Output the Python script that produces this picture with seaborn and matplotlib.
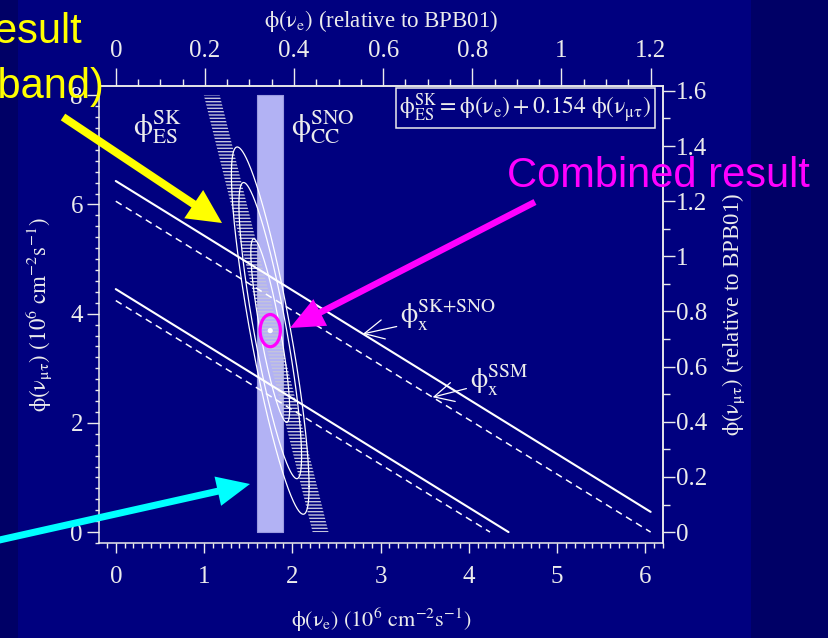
import numpy as np
import pandas as pd
import matplotlib
matplotlib.use("Agg")
import matplotlib.pyplot as plt
import matplotlib.patches as mpatches
from matplotlib.transforms import IdentityTransform
from matplotlib.ticker import MultipleLocator, FixedLocator, FuncFormatter
import seaborn as sns

# ---- measured fluxes, 10^6 cm^-2 s^-1 ----
sno_cc = 1.75            # SNO charged-current nu_e flux
sno_cc_err = 0.145
sk_es = 2.32             # Super-K elastic-scattering flux
sk_es_err = 0.09
es_mutau_coeff = 0.154   # ES sensitivity to nu_mu,tau relative to nu_e
bpb01_flux = 5.05        # BPB01 8B prediction, used for the relative scales
band_top = 8.0           # upper phi(nu_mu,tau) drawn for the bands

combined_e = 1.75        # combined best fit
combined_mutau = 3.69
cl_chi2 = [2.30, 5.99, 9.21]   # 68%, 95%, 99% joint contours

# total 8B flux bands: phi_e + phi_mutau = const
total_names = ["SK+SNO", "SSM"]
total_low = [4.45, 4.24]
total_high = [6.43, 6.06]
total_styles = ["solid", "dashed"]
line_x_end = 6.06

bottom_ticks = [0, 1, 2, 3, 4, 5, 6]
left_ticks = [0, 2, 4, 6, 8]
top_ticks = [0, 0.2, 0.4, 0.6, 0.8, 1.0, 1.2]
right_ticks = [0, 0.2, 0.4, 0.6, 0.8, 1.0, 1.2, 1.4, 1.6]

SLIDE_BG = "#000066"
PANEL_BG = "#00007f"
INK = "#ececec"
HATCH = "#c4c4dc"
SNO_FILL = "#b2b2f4"
YELLOW = "#ffff00"
MAGENTA = "#ff00ff"
CYAN = "#00ffff"
SERIF = ["Liberation Serif", "DejaVu Serif"]

W, H = 829, 638

sns.set_theme(style="white")
plt.rcParams.update({
    "font.family": SERIF,
    "mathtext.fontset": "stix",
    "text.color": INK,
    "axes.labelcolor": INK,
    "xtick.color": INK,
    "ytick.color": INK,
    "axes.edgecolor": INK,
    "axes.linewidth": 1.1,
    "hatch.linewidth": 1.0,
    "hatch.color": HATCH,
})

fig = plt.figure(figsize=(W / 100, H / 100), dpi=100, facecolor=SLIDE_BG)
fig.add_artist(mpatches.Rectangle((18 / W, 0), (751 - 18) / W, 1,
                                  transform=fig.transFigure,
                                  facecolor=PANEL_BG, edgecolor="none", zorder=-5))

ax = fig.add_axes([99 / W, 1 - 543 / H, (663 - 99) / W, (543 - 86) / H])
ax.set_facecolor(PANEL_BG)
ax.set_xlim(-0.19, 6.2)
ax.set_ylim(-0.2, 8.17)

# SNO CC band
ax.fill_betweenx([0, band_top], sno_cc - sno_cc_err, sno_cc + sno_cc_err,
                 facecolor=SNO_FILL, edgecolor="#9a9ae0", linewidth=0.8, zorder=1)

# SK ES band: phi_e = phi_ES - 0.154 phi_mutau
yy = np.array([0.0, band_top])
ax.fill_betweenx(yy, sk_es - sk_es_err - es_mutau_coeff * yy,
                 sk_es + sk_es_err - es_mutau_coeff * yy,
                 facecolor="none", edgecolor=HATCH, linewidth=0,
                 hatch="-----", zorder=2)

# total-flux lines
for lo, hi, style in zip(total_low, total_high, total_styles):
    for tot in (lo, hi):
        x_end = min(tot, line_x_end)
        seg = pd.DataFrame({"x": [0.0, x_end], "y": [tot, tot - x_end]})
        sns.lineplot(data=seg, x="x", y="y", ax=ax, color="white",
                     lw=1.5 if style == "solid" else 1.1,
                     linestyle="-" if style == "solid" else (0, (4.5, 3.2)),
                     sort=False, estimator=None, zorder=3)

# joint confidence contours from the two measurements
var_e = sno_cc_err ** 2
var_mt = (sk_es_err ** 2 + sno_cc_err ** 2) / es_mutau_coeff ** 2
cov_emt = -sno_cc_err ** 2 / es_mutau_coeff
chol = np.linalg.cholesky(np.array([[var_e, cov_emt], [cov_emt, var_mt]]))
t = np.linspace(0, 2 * np.pi, 400)
circle = np.vstack([np.cos(t), np.sin(t)])
for c2 in cl_chi2:
    pts = chol @ circle * np.sqrt(c2)
    ell = pd.DataFrame({"x": combined_e + pts[0], "y": combined_mutau + pts[1]})
    sns.lineplot(data=ell, x="x", y="y", ax=ax, color="white", lw=0.9,
                 sort=False, estimator=None, zorder=4)

sns.scatterplot(x=[combined_e], y=[combined_mutau], ax=ax, color="white",
                s=14, edgecolor="none", zorder=5)
ax.add_patch(mpatches.Ellipse((combined_e, combined_mutau), 0.23, 0.59,
                              fill=False, edgecolor=MAGENTA, lw=2.3, zorder=6))

# axes, ticks
ax.xaxis.set_major_locator(FixedLocator(bottom_ticks))
ax.xaxis.set_minor_locator(MultipleLocator(0.1))
ax.yaxis.set_major_locator(FixedLocator(left_ticks))
ax.yaxis.set_minor_locator(MultipleLocator(0.2))
fmt = FuncFormatter(lambda v, p: f"{v:g}")
ax.xaxis.set_major_formatter(fmt)
ax.yaxis.set_major_formatter(fmt)
ax.tick_params(axis="x", which="major", direction="out", length=7.5, width=1.0,
               pad=9, labelsize=18, bottom=True, labelfontfamily=SERIF[0])
ax.tick_params(axis="x", which="minor", direction="out", length=3.6, width=1.0, bottom=True)
ax.tick_params(axis="y", which="major", direction="out", length=8.6, width=1.0,
               pad=3, labelsize=18, left=True, labelfontfamily=SERIF[0])
ax.tick_params(axis="y", which="minor", direction="out", length=3.0, width=1.0, left=True)
for s in ax.spines.values():
    s.set_color(INK)

ax.set_xlabel(r"$\mathrm{\phi(\nu_e)\ (10^6\ cm^{-2}s^{-1})}$", fontsize=16)
ax.xaxis.set_label_coords(0.5, -0.168)
ax.xaxis.label.set_va("center")
ax.set_ylabel(r"$\mathrm{\phi(\nu_{\mu\tau})\ (10^6\ cm^{-2}s^{-1})}$", fontsize=16.5)
ax.yaxis.set_label_coords(-0.106, 0.5)
ax.yaxis.label.set_va("center")

top = ax.secondary_xaxis("top", functions=(lambda v: v / bpb01_flux,
                                           lambda v: v * bpb01_flux))
top.xaxis.set_major_locator(FixedLocator(top_ticks))
top.xaxis.set_minor_locator(MultipleLocator(0.05))
top.xaxis.set_major_formatter(fmt)
top.tick_params(axis="x", which="major", direction="out", length=13, width=1.0,
                pad=4, labelsize=18, labelfontfamily=SERIF[0])
top.tick_params(axis="x", which="minor", direction="out", length=5, width=1.0)
top.set_xlabel(r"$\mathrm{\phi(\nu_e)}$ (relative to BPB01)", fontsize=16.5)
top.xaxis.set_label_coords(0.5, 1.142, transform=ax.transAxes)
top.xaxis.label.set_va("center")

right = ax.secondary_yaxis("right", functions=(lambda v: v / bpb01_flux,
                                               lambda v: v * bpb01_flux))
right.yaxis.set_major_locator(FixedLocator(right_ticks))
right.yaxis.set_minor_locator(MultipleLocator(0.1))
right.yaxis.set_major_formatter(fmt)
right.tick_params(axis="y", which="major", direction="out", length=8.6, width=1.0,
                  pad=1, labelsize=18, labelfontfamily=SERIF[0])
right.tick_params(axis="y", which="minor", direction="out", length=5, width=1.0)
right.set_ylabel(r"$\mathrm{\phi(\nu_{\mu\tau})}$ (relative to BPB01)", fontsize=16.5)
right.yaxis.set_label_coords(1.126, 0.5, transform=ax.transAxes)
right.yaxis.label.set_va("center")

# in-plot labels
ax.text(0.19, 7.42, r"$\mathrm{\phi^{SK}_{ES}}$", fontsize=22, va="center", ha="left")
ax.text(1.99, 7.42, r"$\mathrm{\phi^{SNO}_{CC}}$", fontsize=22, va="center", ha="left")
ax.text(4.64, 7.77,
        r"$\mathrm{\phi^{SK}_{ES} = \phi(\nu_e) + 0.154\ \phi(\nu_{\mu\tau})}$",
        fontsize=17, ha="center", va="center",
        bbox=dict(boxstyle="square,pad=0.15", facecolor="none", edgecolor=INK, lw=1.1))

arrow_kw = dict(arrowstyle="->,head_length=0.7,head_width=0.35", color="white",
                lw=0.9, shrinkA=0, shrinkB=0)
sk_sno_tip_x = 2.80
ax.annotate(r"$\mathrm{\phi^{SK{+}SNO}_{x}}$", xy=(sk_sno_tip_x, total_high[0] - sk_sno_tip_x),
            xytext=(3.22, 3.97), fontsize=20, ha="left", va="center",
            arrowprops=arrow_kw, zorder=7)
ssm_tip_x = 3.59
ax.annotate(r"$\mathrm{\phi^{SSM}_{x}}$", xy=(ssm_tip_x, total_high[1] - ssm_tip_x),
            xytext=(4.01, 2.78), fontsize=20, ha="left", va="center",
            arrowprops=arrow_kw, zorder=7)

# slide call-outs (figure pixels, y measured from the top)
def px(x, y):
    return x, H - y

def call_arrow(x0, y0, x1, y1, color, width, head_w, head_l):
    a0, b0 = px(x0, y0)
    a1, b1 = px(x1, y1)
    fig.add_artist(mpatches.FancyArrow(a0, b0, a1 - a0, b1 - b0, width=width,
                                       head_width=head_w, head_length=head_l,
                                       length_includes_head=True, color=color,
                                       linewidth=0, transform=IdentityTransform(),
                                       zorder=20))

call_arrow(63, 117, 222, 223, YELLOW, 8, 34, 34)
call_arrow(535, 202, 290, 328, MAGENTA, 6.5, 30, 34)
call_arrow(-5, 541, 250, 484, CYAN, 7, 30, 33)

sans = dict(family=["Liberation Sans", "DejaVu Sans"], fontsize=30)
fig.text(82 / W, 1 - 43 / H, "SK result", color=YELLOW, ha="right", va="baseline",
         zorder=21, **sans)
fig.text(104 / W, 1 - 98 / H, "(diagonal band)", color=YELLOW, ha="right",
         va="baseline", zorder=21, **sans)
fig.text(507 / W, 1 - 187 / H, "Combined result", color=MAGENTA, ha="left",
         va="baseline", zorder=21, **sans)

fig.savefig("out.png", dpi=100, facecolor=SLIDE_BG)
